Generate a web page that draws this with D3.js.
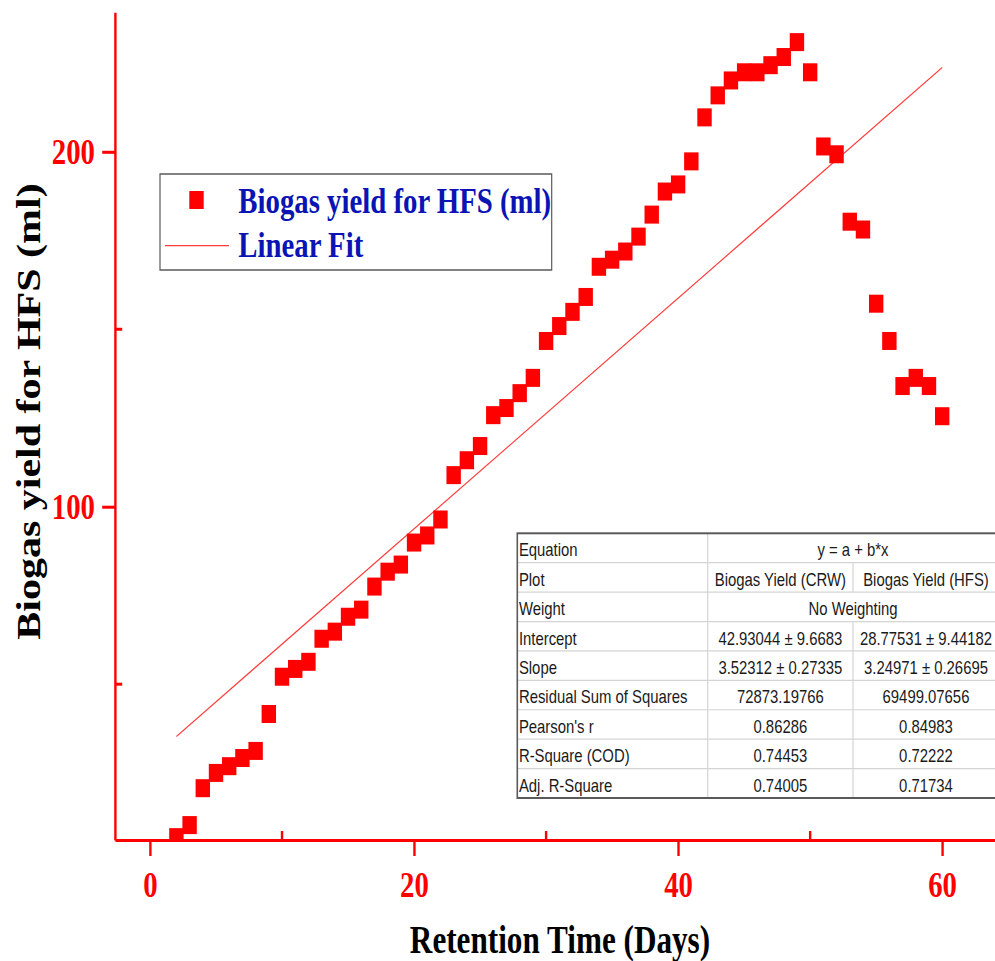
<!DOCTYPE html>
<html>
<head>
<meta charset="utf-8">
<script src="https://cdn.jsdelivr.net/npm/d3@7"></script>
<style>
  body { margin: 0; background: #fff; }
  svg { display: block; }
</style>
</head>
<body>
<svg id="chart"></svg>
<script>
// retention days and measured biogas yield for HFS (ml)
const days = [2, 3, 4, 5, 6, 7, 8, 9, 10, 11, 12, 13, 14, 15, 16, 17, 18, 19, 20,
  21, 22, 23, 24, 25, 26, 27, 28, 29, 30, 31, 32, 33, 34, 35, 36, 37, 38, 39, 40,
  41, 42, 43, 44, 45, 46, 47, 48, 49, 50, 51, 52, 53, 54, 55, 56, 57, 58, 59, 60]
const yields = [6.9, 10.3, 20.7, 25.0, 26.9, 29.2, 31.2, 41.6, 52.1, 54.3, 56.3, 62.8, 64.8, 69.0, 71.0, 77.5, 81.7, 83.7, 89.9,
  91.9, 96.4, 108.9, 113.1, 117.1, 125.8, 127.8, 132.0, 136.3, 146.7, 150.9, 154.9, 159.1, 167.6, 169.6, 171.9, 176.1, 182.3, 188.8, 190.8,
  197.3, 209.7, 215.9, 220.1, 222.4, 222.4, 224.4, 226.7, 230.9, 222.4, 201.5, 199.3, 180.3, 178.1, 157.2, 146.7, 134.0, 136.3, 134.0, 125.5]

const xTicks = [0, 20, 40, 60]
const xMinorTicks = [10, 30, 50]
const yTicks = [100, 200]
const yMinorTicks = [50, 150]

// linear fit y = a + b*x (HFS column of the table)
const fitIntercept = 28.77531
const fitSlope = 3.24971
const fitDays = [2, 60]

const legendLabels = ['Biogas yield for HFS (ml)', 'Linear Fit']

const tableLabels = ['Equation', 'Plot', 'Weight', 'Intercept', 'Slope',
  'Residual Sum of Squares', "Pearson's r", 'R-Square (COD)', 'Adj. R-Square']
const tableCRW = ['y = a + b*x', 'Biogas Yield (CRW)', 'No Weighting', '42.93044 \u00b1 9.6683',
  '3.52312 \u00b1 0.27335', '72873.19766', '0.86286', '0.74453', '0.74005']
const tableHFS = [null, 'Biogas Yield (HFS)', null, '28.77531 \u00b1 9.44182',
  '3.24971 \u00b1 0.26695', '69499.07656', '0.84983', '0.72222', '0.71734']

const width = 995, height = 961
// the source picture is squeezed sideways, so draw in a wider space and squash it
const sx = 0.8
const vw = width / sx
const vx = px => px / sx

const serif = 'Liberation Serif, Times New Roman, serif'
const sans = 'Liberation Sans, Arial, sans-serif'
const red = '#ff0000'

const svg = d3.select('#chart')
  .attr('width', width)
  .attr('height', height)
  .attr('viewBox', `0 0 ${vw} ${height}`)
  .attr('preserveAspectRatio', 'none')

const x = d3.scaleLinear()
  .domain([-2.65, 64])
  .range([vx(115), vw])

const y = d3.scaleLinear()
  .domain([6.1, 239.3])
  .range([840, 12.3])

svg.append('clipPath')
  .attr('id', 'plot-clip')
  .append('rect')
  .attr('x', x.range()[0])
  .attr('y', y.range()[1])
  .attr('width', x.range()[1] - x.range()[0])
  .attr('height', y.range()[0] - y.range()[1])

const plot = svg.append('g').attr('clip-path', 'url(#plot-clip)')

// fit line
plot.append('line')
  .attr('x1', x(fitDays[0]))
  .attr('y1', y(fitIntercept + fitSlope * fitDays[0]))
  .attr('x2', x(fitDays[1]))
  .attr('y2', y(fitIntercept + fitSlope * fitDays[1]))
  .attr('stroke', '#ff3c3c')
  .attr('stroke-width', 1.3)

// square markers
const ms = 18
plot.selectAll('.pt')
  .data(days.map((d, i) => [d, yields[i]]))
  .enter().append('rect')
  .attr('class', 'pt')
  .attr('x', d => x(d[0]) - ms / 2)
  .attr('y', d => y(d[1]) - ms / 2)
  .attr('width', ms)
  .attr('height', ms)
  .attr('fill', red)

// stats table
const tLeft = vx(517.3), tRight = vx(999), tTop = 533.3, tBottom = 798
const col1 = vx(707.7), col2 = vx(853)
const rowH = (tBottom - tTop) / tableLabels.length
const table = svg.append('g')

table.append('rect')
  .attr('x', tLeft).attr('y', tTop)
  .attr('width', tRight - tLeft).attr('height', tBottom - tTop)
  .attr('fill', '#fff')

tableLabels.forEach((lab, i) => {
  const top = tTop + i * rowH
  if (i > 0) {
    table.append('line')
      .attr('x1', tLeft).attr('x2', tRight)
      .attr('y1', top).attr('y2', top)
      .attr('stroke', '#d4d4d4').attr('stroke-width', 1.2)
  }
  if (tableHFS[i] !== null) {
    table.append('line')
      .attr('x1', col2).attr('x2', col2)
      .attr('y1', top).attr('y2', top + rowH)
      .attr('stroke', '#d4d4d4').attr('stroke-width', 1.5)
  }
  const base = top + 23
  table.append('text')
    .attr('x', tLeft + 2).attr('y', base)
    .text(lab)
  if (tableHFS[i] === null) {
    table.append('text')
      .attr('x', col2).attr('y', base)
      .attr('text-anchor', 'middle')
      .text(tableCRW[i])
  } else {
    table.append('text')
      .attr('x', (col1 + col2) / 2).attr('y', base)
      .attr('text-anchor', 'middle')
      .text(tableCRW[i])
    table.append('text')
      .attr('x', (col2 + tRight) / 2).attr('y', base)
      .attr('text-anchor', 'middle')
      .text(tableHFS[i])
  }
})

table.append('line')
  .attr('x1', col1).attr('x2', col1)
  .attr('y1', tTop).attr('y2', tBottom)
  .attr('stroke', '#d4d4d4').attr('stroke-width', 1.5)

table.append('rect')
  .attr('x', tLeft).attr('y', tTop)
  .attr('width', tRight - tLeft).attr('height', tBottom - tTop)
  .attr('fill', 'none')
  .attr('stroke', '#5a5a5a').attr('stroke-width', 2)

table.selectAll('text')
  .attr('font-family', sans)
  .attr('font-size', 18.6)
  .attr('fill', '#1a1a1a')

// legend
const legend = svg.append('g')
legend.append('rect')
  .attr('x', vx(160)).attr('y', 174)
  .attr('width', vx(551.7) - vx(160)).attr('height', 96)
  .attr('fill', '#fff')
  .attr('stroke', '#5a5a5a').attr('stroke-width', 1.5)

legend.append('rect')
  .attr('x', vx(196.5) - ms / 2).attr('y', 200 - ms / 2)
  .attr('width', ms).attr('height', ms)
  .attr('fill', red)

legend.append('line')
  .attr('x1', vx(165)).attr('x2', vx(229))
  .attr('y1', 245.7).attr('y2', 245.7)
  .attr('stroke', '#ff3c3c').attr('stroke-width', 1.3)

legend.selectAll('.leg-text')
  .data(legendLabels)
  .enter().append('text')
  .attr('class', 'leg-text')
  .attr('x', vx(238.3))
  .attr('y', (d, i) => [212.7, 257.3][i])
  .attr('font-family', serif)
  .attr('font-weight', 'bold')
  .attr('font-size', 36)
  .attr('fill', '#0a14b4')
  .text(d => d)

// axes
const xAxis = d3.axisBottom(x)
  .tickValues(xTicks)
  .tickSize(16)
  .tickSizeOuter(0)
  .tickFormat(d3.format('d'))

const yAxis = d3.axisLeft(y)
  .tickValues(yTicks)
  .tickSize(16)
  .tickSizeOuter(0)
  .tickPadding(9)
  .tickFormat(d3.format('d'))

const gx = svg.append('g')
  .attr('transform', 'translate(0,840)')
  .call(xAxis)

const gy = svg.append('g')
  .attr('transform', `translate(${x.range()[0]},0)`)
  .call(yAxis)

gx.selectAll('text').attr('y', 57).attr('dy', 0)

for (const g of [gx, gy]) {
  g.select('.domain').attr('stroke', red).attr('stroke-width', 3)
  g.selectAll('.tick line').attr('stroke', red).attr('stroke-width', 3)
  g.selectAll('text')
    .attr('fill', red)
    .attr('font-family', serif)
    .attr('font-weight', 'bold')
    .attr('font-size', 36)
}

gx.selectAll('.minor')
  .data(xMinorTicks)
  .enter().append('line')
  .attr('class', 'minor')
  .attr('x1', d => x(d)).attr('x2', d => x(d))
  .attr('y1', 0).attr('y2', -9)
  .attr('stroke', red).attr('stroke-width', 3)

gy.selectAll('.minor')
  .data(yMinorTicks)
  .enter().append('line')
  .attr('class', 'minor')
  .attr('x1', 0).attr('x2', 9)
  .attr('y1', d => y(d)).attr('y2', d => y(d))
  .attr('stroke', red).attr('stroke-width', 3)

// axis titles
svg.append('text')
  .attr('x', vx(560))
  .attr('y', 953)
  .attr('text-anchor', 'middle')
  .attr('font-family', serif)
  .attr('font-weight', 'bold')
  .attr('font-size', 39)
  .attr('fill', '#000')
  .text('Retention Time (Days)')

svg.append('text')
  .attr('transform', `translate(${vx(40)},411.5) rotate(-90)`)
  .attr('text-anchor', 'middle')
  .attr('font-family', serif)
  .attr('font-weight', 'bold')
  .attr('font-size', 42)
  .attr('fill', '#000')
  .text('Biogas yield for HFS (ml)')
</script>
</body>
</html>
